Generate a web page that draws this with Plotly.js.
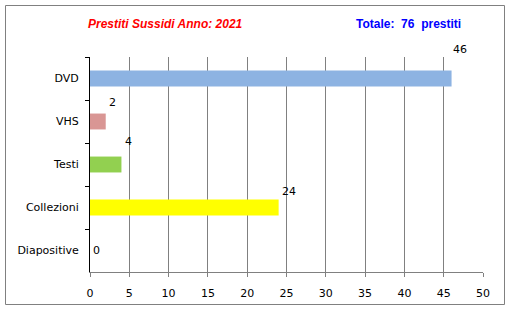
<!DOCTYPE html>
<html>
<head>
<meta charset="utf-8">
<script src="https://cdn.plot.ly/plotly-3.0.1.min.js"></script>
<style>html,body{margin:0;padding:0;background:#fff;}#chart{width:511px;height:310px;}</style>
</head>
<body>
<div id="chart"></div>
<script>
// Data
const categories = ["DVD", "VHS", "Testi", "Collezioni", "Diapositive"];
const values = [46, 2, 4, 24, 0];
const barColors = ["#8DB3E2", "#D99694", "#92D050", "#FFFF00", "#FFFFFF"];
const xTickValues = [0, 5, 10, 15, 20, 25, 30, 35, 40, 45, 50];
const chartTitle = "Prestiti Sussidi Anno: 2021";
const totalLabel = "Totale:  76  prestiti";

// Label offsets (style only, pixels) mimicking the original auto-placement
const labelShift = [[-1, 29], [1, 19], [2, 23], [1, 16], [1, 0]];

const trace = {
  type: "bar",
  orientation: "h",
  y: categories,
  x: values,
  width: 0.37,
  marker: {color: barColors, line: {width: 0}},
  hoverinfo: "none"
};

const annotations = categories.map((c, i) => ({
  x: values[i], y: c, xref: "x", yref: "y",
  text: String(values[i]), showarrow: false,
  xanchor: "left", yanchor: "middle",
  xshift: labelShift[i][0], yshift: labelShift[i][1],
  font: {family: "DejaVu Sans", size: 11, color: "#000"}
}));

annotations.push({
  xref: "paper", yref: "paper", x: 0.191, y: 1.153,
  text: "<b><i>" + chartTitle + "</i></b>", showarrow: false,
  xanchor: "center", yanchor: "middle",
  font: {family: "Liberation Sans", size: 12, color: "#FF0000"}
});
annotations.push({
  xref: "paper", yref: "paper", x: 0.810, y: 1.153,
  text: "<b>" + totalLabel.replace(/ /g, "&nbsp;") + "</b>", showarrow: false,
  xanchor: "center", yanchor: "middle",
  font: {family: "Liberation Sans", size: 12, color: "#0000FF"}
});

const layout = {
  width: 511, height: 310,
  margin: {l: 90, r: 28, t: 57, b: 38, pad: 0},
  paper_bgcolor: "#fff", plot_bgcolor: "#fff",
  showlegend: false,
  bargap: 0.63,
  font: {family: "DejaVu Sans", size: 11, color: "#000"},
  xaxis: {
    range: [0, 50], tickvals: xTickValues, ticktext: xTickValues.map(String),
    showgrid: true, gridcolor: "#808080", gridwidth: 1,
    zeroline: false, showline: true, linecolor: "#808080", linewidth: 1,
    ticks: "outside", ticklen: 4, tickcolor: "#808080",
    tickfont: {family: "DejaVu Sans", size: 11, color: "#000"},
    ticklabelstandoff: 7,
    fixedrange: true
  },
  yaxis: {
    type: "category", autorange: "reversed",
    showgrid: false, zeroline: false,
    showline: true, linecolor: "#000", linewidth: 1,
    ticks: "outside", ticklen: 4, tickcolor: "#000", tickson: "boundaries",
    tickfont: {family: "DejaVu Sans", size: 11, color: "#000"},
    ticklabelstandoff: 8,
    fixedrange: true
  },
  annotations: annotations,
  shapes: [{
    type: "rect", xref: "paper", yref: "paper",
    x0: (5.5 - 90) / 393, x1: (504.5 - 90) / 393,
    y0: (272 - 304.5) / 215, y1: (272 - 5.5) / 215,
    line: {color: "#808080", width: 1}, fillcolor: "rgba(0,0,0,0)", layer: "above"
  }]
};

Plotly.newPlot("chart", [trace], layout, {displayModeBar: false, staticPlot: true});
</script>
</body>
</html>
